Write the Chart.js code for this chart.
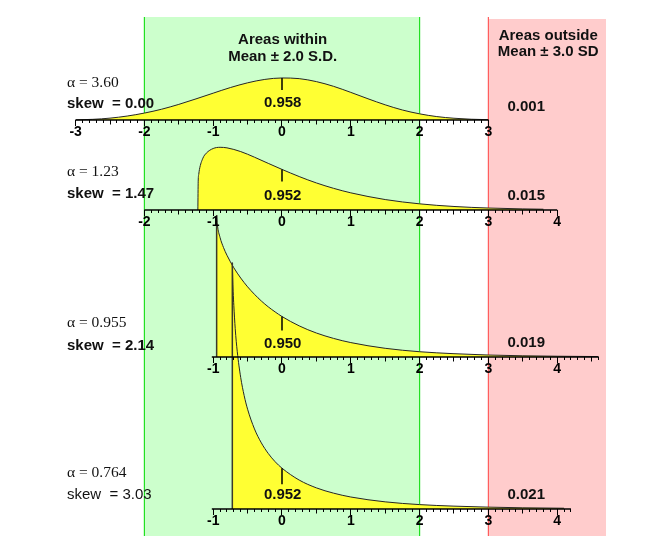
<!DOCTYPE html>
<html>
<head>
<meta charset="utf-8">
<script src="https://cdn.jsdelivr.net/npm/chart.js@4.4.0/dist/chart.umd.min.js"></script>
<style>
  html, body { margin: 0; padding: 0; background: #fff; }
  #wrap { position: relative; width: 659px; height: 552px; }
</style>
</head>
<body>
<div id="wrap"><canvas id="chart"></canvas></div>
<script>
// panel labels
const alphas = ['3.60', '1.23', '0.955', '0.764'];
const skews = ['0.00', '1.47', '2.14', '3.03'];
const areasWithin = ['0.958', '0.952', '0.950', '0.952'];
const areasOutside = ['0.001', '0.015', '0.019', '0.021'];

// standardized density curves, x in S.D. units from the mean
const z1 = [-3, -2.75, -2.5, -2.25, -2, -1.75, -1.5, -1.25, -1, -0.75, -0.5, -0.25, 0,
  0.25, 0.5, 0.75, 1, 1.25, 1.5, 1.75, 2, 2.25, 2.5, 2.75, 3];
const d1 = [0.001, 0.006, 0.017, 0.036, 0.063, 0.098, 0.142, 0.192, 0.244, 0.295, 0.338, 0.369, 0.382,
  0.376, 0.349, 0.306, 0.251, 0.193, 0.138, 0.091, 0.056, 0.031, 0.016, 0.007, 0.003];

const z2 = [-1.223, -1.218, -1.21, -1.2, -1.15, -1.1, -1.0, -0.9, -0.8, -0.6, -0.4, -0.2, 0,
  0.25, 0.5, 0.75, 1, 1.5, 2, 2.5, 3, 3.5, 3.8];
const d2 = [0, 0.262, 0.325, 0.369, 0.471, 0.517, 0.559, 0.570, 0.565, 0.531, 0.480, 0.424, 0.369,
  0.304, 0.246, 0.197, 0.156, 0.095, 0.056, 0.032, 0.018, 0.010, 0.007];

const z3 = [-0.95, -0.94, -0.9, -0.85, -0.8, -0.7, -0.6, -0.5, -0.4, -0.3, -0.2, -0.1, 0,
  0.25, 0.5, 0.75, 1, 1.5, 2, 2.5, 3, 3.5, 4, 4.6];
const d3 = [1.29, 1.207, 1.086, 0.995, 0.925, 0.811, 0.718, 0.638, 0.570, 0.509, 0.456, 0.410, 0.368,
  0.283, 0.218, 0.169, 0.131, 0.079, 0.048, 0.030, 0.018, 0.011, 0.007, 0.004];

const z4 = [-0.722, -0.71, -0.7, -0.68, -0.65, -0.6, -0.55, -0.5, -0.4, -0.3, -0.2, -0.1, 0,
  0.25, 0.5, 0.75, 1, 1.5, 2, 2.5, 3, 3.5, 4.1];
const d4 = [2.24, 1.98, 1.85, 1.64, 1.43, 1.195, 1.031, 0.907, 0.728, 0.601, 0.505, 0.430, 0.371,
  0.263, 0.192, 0.144, 0.109, 0.065, 0.040, 0.026, 0.017, 0.011, 0.007];

// axis extents and labelled ticks of each panel
const axisRanges = [[-3, 3], [-2, 4], [-1.02, 4.6], [-1.02, 4.2]];
const tickLabels = [
  [-3, -2, -1, 0, 1, 2, 3],
  [-2, -1, 0, 1, 2, 3, 4],
  [-1, 0, 1, 2, 3, 4],
  [-1, 0, 1, 2, 3, 4],
];

// shaded bands
const withinBand = [-2, 2];
const outsideBand = [3, 4.71];

// ---- layout (pixels on the y scale, which runs top to bottom) ----
const X_MIN = -4.099, X_MAX = 5.48;
const BASE = [120, 210, 357, 509];
const PX_PER_DENSITY = 110;
const MARK_LEN = [12, 12, 14, 16];
const BAND_TOP = 17, BAND_BOTTOM = 536;
const SANS = '"Liberation Sans", Arial, sans-serif';
const SERIF = '"Liberation Serif", "Times New Roman", serif';

const curves = [[z1, d1], [z2, d2], [z3, d3], [z4, d4]];

const pt = (x, y) => ({ x, y });
const segment = (a, b, color, width, order) => ({
  data: [a, b], borderColor: color, borderWidth: width,
  pointRadius: 0, fill: false, order,
});

const datasets = [];

// background bands and their edges
datasets.push({
  data: [pt(withinBand[0], BAND_TOP), pt(withinBand[1], BAND_TOP)],
  fill: { value: BAND_BOTTOM }, backgroundColor: '#ccffcc',
  borderColor: 'rgba(0,0,0,0)', borderWidth: 0, pointRadius: 0, order: 100,
});
datasets.push({
  data: [pt(outsideBand[0], BAND_TOP + 2), pt(outsideBand[1], BAND_TOP + 2)],
  fill: { value: BAND_BOTTOM }, backgroundColor: '#ffcccc',
  borderColor: 'rgba(0,0,0,0)', borderWidth: 0, pointRadius: 0, order: 100,
});
withinBand.forEach(v => datasets.push(segment(pt(v, BAND_TOP), pt(v, BAND_BOTTOM), '#22e022', 1.2, 90)));
datasets.push(segment(pt(outsideBand[0], BAND_TOP), pt(outsideBand[0], BAND_BOTTOM), '#ff5c5c', 1.2, 90));

curves.forEach(([zs, ds], i) => {
  const base = BASE[i];
  datasets.push({
    data: zs.map((z, j) => pt(z, base - ds[j] * PX_PER_DENSITY)),
    borderColor: '#262626', borderWidth: 1, backgroundColor: '#ffff33',
    fill: { value: base }, pointRadius: 0,
    cubicInterpolationMode: 'monotone', order: 50 - i,
  });
  // axis line
  datasets.push(segment(pt(axisRanges[i][0], base), pt(axisRanges[i][1], base), '#000', 1.5, 5));
  // mean marker
  const top = base - ds[zs.indexOf(0)] * PX_PER_DENSITY;
  datasets.push(segment(pt(0, top), pt(0, top + MARK_LEN[i]), '#000', 1.5, 5));
  // left edge of the truncated spikes
  if (ds[0] > 0.5) {
    datasets.push(segment(pt(zs[0], base), pt(zs[0], base - ds[0] * PX_PER_DENSITY), '#3a3a2a', 1.5, 6));
  }
});

// one set of tick axes per panel: minor (0.1), half, and labelled integers
const scales = {
  x: { type: 'linear', min: X_MIN, max: X_MAX, display: false },
  y: { type: 'linear', min: 0, max: 552, reverse: true, display: false },
};
const tickKinds = [
  { name: 'minor', step: 0.1, len: 3, labels: false },
  { name: 'half', step: 0.5, len: 4.5, labels: false },
  { name: 'major', step: 1, len: 6, labels: true },
];
BASE.forEach((base, i) => {
  const [lo, hi] = axisRanges[i];
  tickKinds.forEach(kind => {
    const values = [];
    if (kind.labels) {
      values.push(...tickLabels[i]);
    } else {
      const n = Math.round(1 / kind.step);
      for (let k = Math.ceil(lo * n - 1e-9); k <= Math.floor(hi * n + 1e-9); k++) values.push(k / n);
    }
    scales['x' + i + kind.name] = {
      type: 'linear', axis: 'x', min: X_MIN, max: X_MAX, bounds: 'data',
      position: { y: base },
      border: { display: false, z: 2 },
      grid: {
        display: true, drawOnChartArea: false, drawTicks: true, z: 2,
        tickLength: kind.len, tickColor: '#000', tickWidth: 1,
      },
      ticks: {
        display: kind.labels, autoSkip: false, maxRotation: 0, minRotation: 0,
        padding: -2, color: '#000', z: 2,
        font: { family: SANS, size: 14, weight: 'bold' },
        callback: v => String(v),
      },
      afterBuildTicks: scale => { scale.ticks = values.map(v => ({ value: v })); },
    };
  });
});

const textPlugin = {
  id: 'panelText',
  afterDraw(chart) {
    const { ctx } = chart;
    const X = v => chart.scales.x.getPixelForValue(v);
    const Y = v => chart.scales.y.getPixelForValue(v);
    ctx.save();
    ctx.fillStyle = '#111';
    ctx.textBaseline = 'middle';

    ctx.textAlign = 'center';
    ctx.font = 'bold 15px ' + SANS;
    ctx.fillText('Areas within', X(0.01), Y(40));
    ctx.fillText('Mean \u00b1 2.0 S.D.', X(0.01), Y(57));
    ctx.fillText('Areas outside', X(3.87), Y(36));
    ctx.fillText('Mean \u00b1 3.0 SD', X(3.87), Y(52));

    const alphaY = [83, 172, 323, 473];
    const skewY = [104, 194, 346, 495];
    const withinY = [103, 196, 344, 495];
    const outsideY = [107, 196, 343, 495];
    alphas.forEach((a, i) => {
      ctx.textAlign = 'left';
      ctx.font = '15.5px ' + SERIF;
      ctx.fillText('\u03b1 = ' + a, X(-3.125), Y(alphaY[i]));
      ctx.font = (i === 3 ? '' : 'bold ') + '15px ' + SANS;
      ctx.fillText('skew  = ' + skews[i], X(-3.125), Y(skewY[i]));
      ctx.textAlign = 'center';
      ctx.font = 'bold 15px ' + SANS;
      ctx.fillText(areasWithin[i], X(0.01), Y(withinY[i]));
      ctx.fillText(areasOutside[i], X(3.55), Y(outsideY[i]));
    });
    ctx.restore();
  },
};

new Chart(document.getElementById('chart'), {
  type: 'line',
  data: { datasets },
  options: {
    responsive: true,
    maintainAspectRatio: false,
    animation: false,
    events: [],
    layout: { padding: 0, autoPadding: false },
    plugins: { legend: { display: false }, tooltip: { enabled: false } },
    scales,
  },
  plugins: [textPlugin],
});
</script>
</body>
</html>
